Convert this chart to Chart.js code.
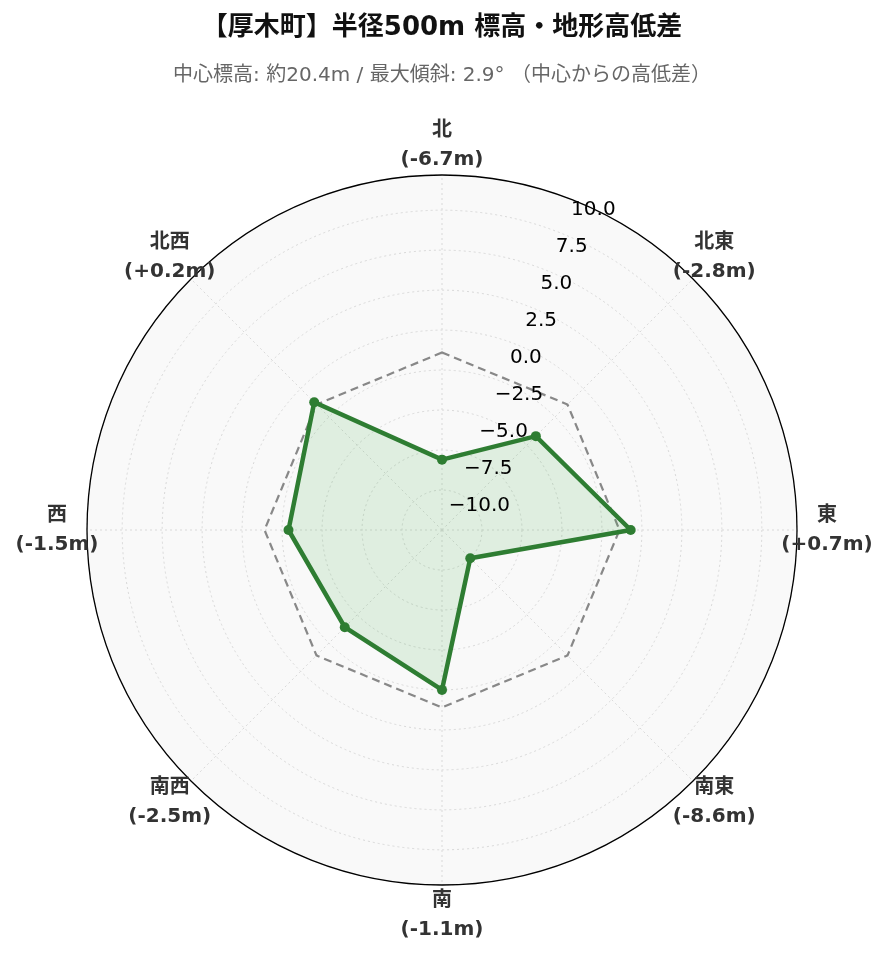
<!DOCTYPE html>
<html>
<head>
<meta charset="utf-8">
<script src="https://cdn.jsdelivr.net/npm/chart.js@4"></script>
<style>
  html, body { margin: 0; padding: 0; background: #fff; }
  #wrap { width: 889px; height: 962px; }
</style>
</head>
<body>
<div id="wrap"><canvas id="myChart"></canvas></div>
<script>
const directions = ['北', '北東', '東', '南東', '南', '南西', '西', '北西'];
const elevDiff = [-6.7, -2.8, 0.7, -8.6, -1.1, -2.5, -1.5, 0.2];
const baseLine = [0, 0, 0, 0, 0, 0, 0, 0];
const tickValues = [-10, -7.5, -5, -2.5, 0, 2.5, 5, 7.5, 10];
const rMin = -11.1;
const rMax = 11.1;

const labelFont = '"DejaVu Sans", "Noto Sans CJK JP", sans-serif';

function fmtDiff(v) {
    return '(' + (v >= 0 ? '+' : '-') + Math.abs(v).toFixed(1) + 'm)';
}

// 方位ラベルと目盛りラベルを描く
const polarText = {
    id: 'polarText',
    afterDraw(chart) {
        const scale = chart.scales.r;
        const ctx = chart.ctx;
        const xc = scale.xCenter, yc = scale.yCenter;

        ctx.save();
        ctx.beginPath();
        ctx.arc(xc, yc, scale.drawingArea, 0, Math.PI * 2);
        ctx.strokeStyle = '#000';
        ctx.lineWidth = 1.3;
        ctx.stroke();

        // 目盛り
        ctx.font = '20px "DejaVu Sans", sans-serif';
        ctx.fillStyle = '#000';
        ctx.textAlign = 'left';
        ctx.textBaseline = 'bottom';
        const a = 22.5 * Math.PI / 180;
        tickValues.forEach(v => {
            const r = scale.getDistanceFromCenterForValue(v);
            const x = xc + r * Math.sin(a);
            const y = yc - r * Math.cos(a);
            ctx.fillText(v.toFixed(1).replace('-', '\u2212'), x, y + 2);
        });

        // 方位
        ctx.font = 'bold 20px ' + labelFont;
        ctx.fillStyle = '#333';
        ctx.textAlign = 'center';
        ctx.textBaseline = 'middle';
        directions.forEach((d, i) => {
            const p = scale.getPointPosition(i, scale.drawingArea + 30);
            ctx.fillText(d, p.x, p.y - 14.5);
            ctx.fillText(fmtDiff(elevDiff[i]), p.x, p.y + 14.5);
        });
        ctx.restore();
    }
};

const ctx = document.getElementById('myChart');
new Chart(ctx, {
    type: 'radar',
    data: {
        labels: directions,
        datasets: [
            {
                label: '高低差',
                data: elevDiff,
                borderColor: '#2e7d32',
                backgroundColor: 'rgba(76, 175, 80, 0.15)',
                borderWidth: 4.5,
                pointRadius: 5,
                pointBackgroundColor: '#2e7d32',
                pointBorderWidth: 0,
                fill: 'start'
            },
            {
                label: '中心',
                data: baseLine,
                borderColor: '#888',
                borderWidth: 2.2,
                borderDash: [8, 5],
                pointRadius: 0,
                fill: false
            }
        ]
    },
    options: {
        responsive: true,
        maintainAspectRatio: false,
        animation: false,
        layout: { padding: { left: 87, right: 92, top: 0, bottom: 77 } },
        plugins: {
            legend: { display: false },
            tooltip: { enabled: false },
            title: {
                display: true,
                text: '【厚木町】半径500m 標高・地形高低差',
                color: '#111',
                font: { size: 26, weight: 'bold', family: labelFont },
                padding: { top: 12.4, bottom: 8 }
            },
            subtitle: {
                display: true,
                text: '中心標高: 約20.4m / 最大傾斜: 2.9° （中心からの高低差）',
                color: '#666',
                font: { size: 20, family: labelFont },
                padding: { top: 12.4, bottom: 87 }
            }
        },
        scales: {
            r: {
                min: rMin,
                max: rMax,
                bounds: 'data',
                backgroundColor: '#f9f9f9',
                ticks: { display: false, stepSize: 2.5, includeBounds: false },
                grid: { circular: true, color: '#d9d9d9', lineWidth: 1 },
                border: { dash: [2, 3] },
                angleLines: { color: '#d9d9d9', lineWidth: 1, borderDash: [2, 3] },
                pointLabels: { display: false }
            }
        }
    },
    plugins: [polarText]
});
</script>
</body>
</html>
